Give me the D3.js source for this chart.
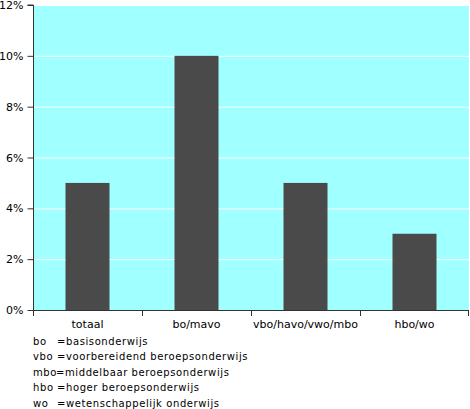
<!DOCTYPE html>
<html><head><meta charset="utf-8">
<script src="https://cdn.jsdelivr.net/npm/d3@7"></script>
<style>body{margin:0;background:#fff}svg{display:block}text{font-family:"DejaVu Sans",sans-serif;fill:#000}</style>
</head><body>
<script>
const categories = ["totaal", "bo/mavo", "vbo/havo/vwo/mbo", "hbo/wo"];
const values = [5, 10, 5, 3];
const yTicks = [0, 2, 4, 6, 8, 10, 12];
const legendAbbr = ["bo", "vbo", "mbo", "hbo", "wo"];
const legendText = ["=basisonderwijs", "=voorbereidend beroepsonderwijs", "=middelbaar beroepsonderwijs", "=hoger beroepsonderwijs", "=wetenschappelijk onderwijs"];

const W = 470, H = 409;
const m = {l: 33, r: 1, t: 5, b: 99};
const svg = d3.select("body").append("svg").attr("width", W).attr("height", H);
const xb = d3.scaleBand().domain(categories).range([m.l, W - m.r]);
const y = d3.scaleLinear().domain([0, 12]).range([H - m.b, m.t]);

svg.append("rect").attr("x", m.l).attr("y", m.t).attr("width", W - m.r - m.l).attr("height", y(0) - m.t).attr("fill", "#a0ffff");
svg.selectAll(".grid").data(yTicks.filter(d => d > 0)).join("line")
  .attr("x1", m.l).attr("x2", W - m.r).attr("y1", d => y(d) + 0.5).attr("y2", d => y(d) + 0.5)
  .attr("stroke", "#fff").attr("stroke-width", 1);

svg.selectAll(".bar").data(values).join("rect")
  .attr("x", (d, i) => xb(categories[i]) + xb.bandwidth() / 2 - 22)
  .attr("width", 44)
  .attr("y", d => y(d)).attr("height", d => y(0) - y(d))
  .attr("fill", "#4a4a4a");

const axisColor = "#333";
const ya = svg.append("g").attr("transform", `translate(${m.l + 0.5},0)`)
  .call(d3.axisLeft(y).tickValues(yTicks).tickFormat(d => d + "%").tickSize(6).tickPadding(4));
ya.select(".domain").attr("stroke", axisColor).attr("d", `M-6,${y(12)}H0V${y(0)}`);
ya.selectAll(".tick line").attr("stroke", axisColor);
ya.selectAll(".tick text").style("font-family", "DejaVu Sans").style("font-size", "11px").attr("fill", "#000");

const xa = svg.append("g").attr("transform", `translate(0,${y(0) + 0.5})`)
  .call(d3.axisBottom(xb).tickSize(0).tickPadding(10));
xa.select(".domain").attr("stroke", axisColor).attr("d", `M${m.l},0H${W - m.r}`);
xa.selectAll(".tick text").style("font-family", "DejaVu Sans").style("font-size", "11px").attr("fill", "#000");
const bounds = categories.map(c => xb(c)).concat([W - m.r - 1]);
svg.selectAll(".xt").data(bounds).join("line")
  .attr("x1", d => Math.round(d) + 0.5).attr("x2", d => Math.round(d) + 0.5)
  .attr("y1", y(0)).attr("y2", y(0) + 6).attr("stroke", axisColor);

const lg = svg.append("g");
legendAbbr.forEach((a, i) => {
  const yy = 344.5 + i * 15.6;
  lg.append("text").attr("x", 33).attr("y", yy).style("font-size", "10px").style("letter-spacing", "0.6px").text(a);
  lg.append("text").attr("x", a === "mbo" ? 56 : 57).attr("y", yy).style("font-size", "10px").style("letter-spacing", "0.6px").text(legendText[i]);
});
</script>
</body></html>
